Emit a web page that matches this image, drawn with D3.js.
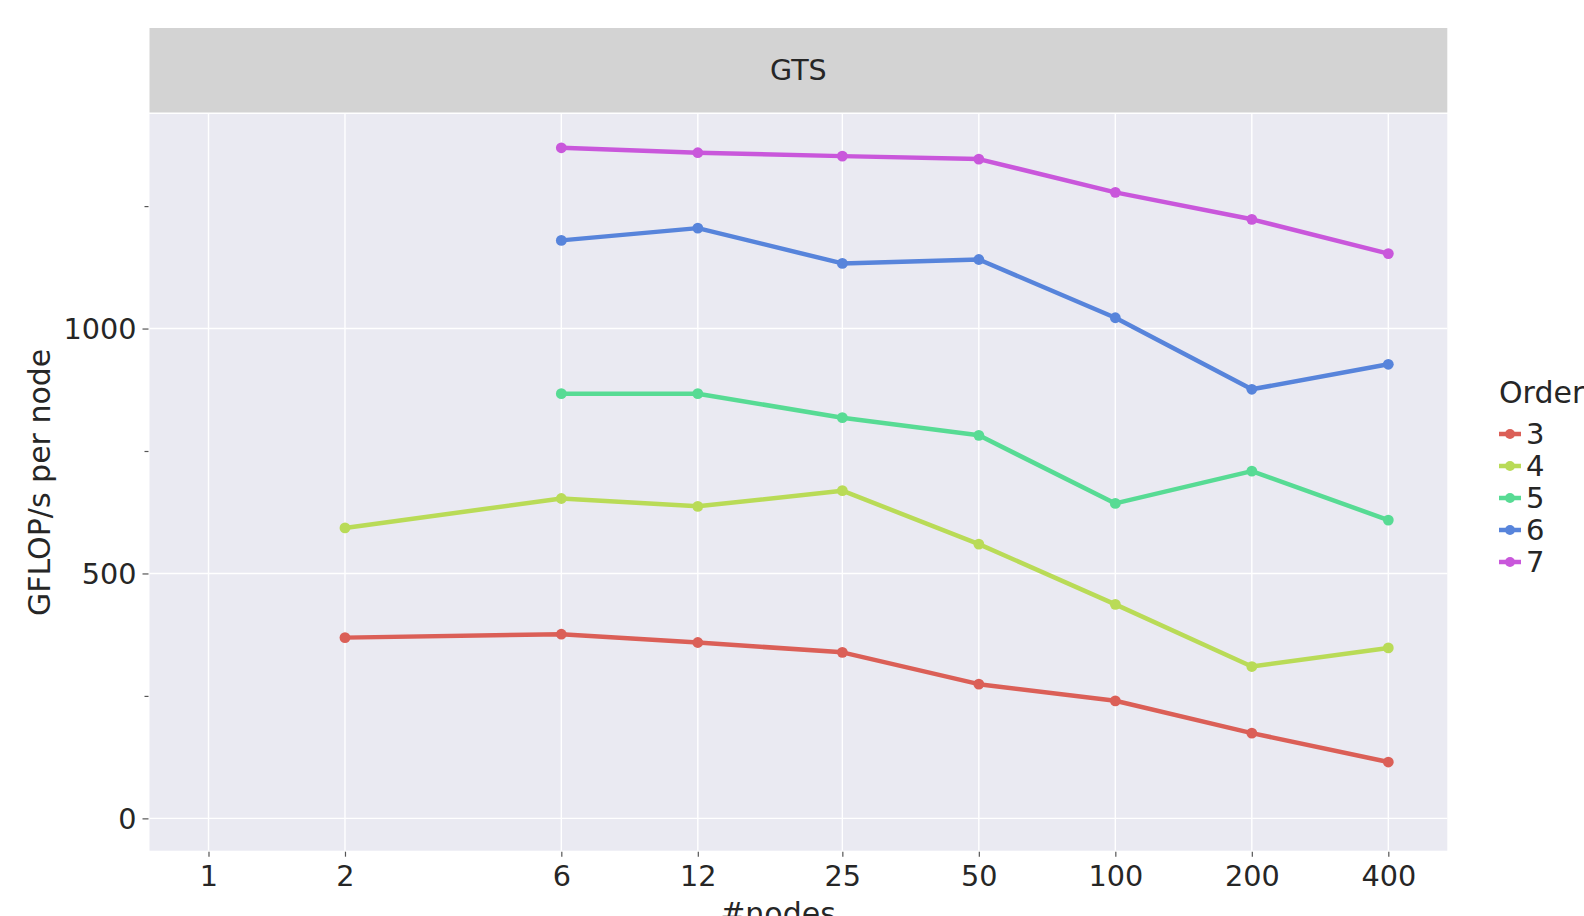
<!DOCTYPE html>
<html>
<head>
<meta charset="utf-8">
<script src="https://cdn.jsdelivr.net/npm/d3@7"></script>
<style>
  body { margin: 0; background: #fff; }
  text { font-family: "DejaVu Sans", sans-serif; fill: #262626; }
</style>
</head>
<body>
<svg width="1584" height="916"></svg>
<script>
// Data
var nodeTicks = [1, 2, 6, 12, 25, 50, 100, 200, 400];
var orders = ['3', '4', '5', '6', '7'];
var orderColors = ['#db5f57', '#b9db57', '#57db94', '#5784db', '#c957db'];
var yTicks = [0, 250, 500, 750, 1000, 1250];

var nodes3 = [2, 6, 12, 25, 50, 100, 200, 400];
var gflops3 = [369, 376, 359, 339, 274, 240, 174, 115];
var nodes4 = [2, 6, 12, 25, 50, 100, 200, 400];
var gflops4 = [593, 653, 637, 669, 560, 437, 310, 348];
var nodes5 = [6, 12, 25, 50, 100, 200, 400];
var gflops5 = [867, 867, 818, 782, 643, 709, 609];
var nodes6 = [6, 12, 25, 50, 100, 200, 400];
var gflops6 = [1180, 1205, 1133, 1141, 1022, 876, 927];
var nodes7 = [6, 12, 25, 50, 100, 200, 400];
var gflops7 = [1369, 1359, 1352, 1346, 1278, 1223, 1153];

var seriesNodes = [nodes3, nodes4, nodes5, nodes6, nodes7];
var seriesVals = [gflops3, gflops4, gflops5, gflops6, gflops7];

var svg = d3.select('svg');

// panel geometry
var panel = {l: 149.5, r: 1447.3, t: 114, b: 850.7};
var strip = {t: 28, b: 112.5};

// log2 x scale with 5% padding each side, like the original
var pad = 0.05 * Math.log2(400);
var x = d3.scaleLog().base(2)
    .domain([Math.pow(2, -pad), 400 * Math.pow(2, pad)])
    .range([panel.l, panel.r]);

var y = d3.scaleLinear()
    .domain([-66, 1438])
    .range([panel.b, panel.t]);

var color = d3.scaleOrdinal().domain(orders).range(orderColors);

// facet strip
svg.append('rect')
    .attr('x', panel.l).attr('y', strip.t)
    .attr('width', panel.r - panel.l).attr('height', strip.b - strip.t)
    .attr('fill', '#d3d3d3');
svg.append('text')
    .attr('x', (panel.l + panel.r) / 2).attr('y', 80)
    .attr('text-anchor', 'middle')
    .style('font-size', '28.5px')
    .text('GTS');

// panel background
svg.append('rect')
    .attr('x', panel.l).attr('y', panel.t)
    .attr('width', panel.r - panel.l).attr('height', panel.b - panel.t)
    .attr('fill', '#eaeaf2');

// grid lines
var gridG = svg.append('g');
gridG.selectAll('.vgrid').data(nodeTicks).enter().append('line')
    .attr('x1', function(d){ return x(d); }).attr('x2', function(d){ return x(d); })
    .attr('y1', panel.t).attr('y2', panel.b)
    .attr('stroke', '#fff').attr('stroke-width', 1.4);
gridG.selectAll('.hgrid').data([0, 500, 1000]).enter().append('line')
    .attr('y1', function(d){ return y(d); }).attr('y2', function(d){ return y(d); })
    .attr('x1', panel.l).attr('x2', panel.r)
    .attr('stroke', '#fff').attr('stroke-width', 1.4);

// axes
var xAxis = d3.axisBottom(x)
    .tickValues(nodeTicks)
    .tickFormat(d3.format('d'))
    .tickSize(5)
    .tickPadding(9);
var xG = svg.append('g')
    .attr('transform', 'translate(0,' + (panel.b + 1) + ')')
    .call(xAxis);

var yAxis = d3.axisLeft(y)
    .tickValues(yTicks)
    .tickFormat(function(d){ return d % 500 === 0 ? d : ''; })
    .tickSize(6)
    .tickPadding(6);
var yG = svg.append('g')
    .attr('transform', 'translate(' + (panel.l - 1) + ',0)')
    .call(yAxis);

[xG, yG].forEach(function(g){
    g.select('.domain').remove();
    g.selectAll('.tick line').attr('stroke', '#555').attr('stroke-width', 1.2);
    g.selectAll('.tick text')
        .style('font-family', '"DejaVu Sans", sans-serif')
        .style('font-size', '28.7px')
        .attr('fill', '#262626');
});
// minor y ticks are shorter
yG.selectAll('.tick').filter(function(d){ return d % 500 !== 0; })
    .select('line').attr('x2', -4);
yG.selectAll('.tick text').attr('dy', '0.36em');

// axis titles
svg.append('text')
    .attr('transform', 'translate(50,' + ((panel.t + panel.b) / 2) + ') rotate(-90)')
    .attr('text-anchor', 'middle')
    .style('font-size', '30px')
    .text('GFLOP/s per node');
svg.append('text')
    .attr('x', 778).attr('y', 924)
    .attr('text-anchor', 'middle')
    .style('font-size', '30px')
    .text('#nodes');

// lines and points
var line = d3.line()
    .x(function(d){ return x(d.n); })
    .y(function(d){ return y(d.v); });

var seriesData = orders.map(function(o, i){
    return {order: o, values: seriesNodes[i].map(function(n, j){ return {n: n, v: seriesVals[i][j]}; })};
});

var seriesG = svg.append('g').selectAll('.series')
    .data(seriesData).enter().append('g')
    .attr('class', 'series');

seriesG.append('path')
    .attr('d', function(d){ return line(d.values); })
    .attr('fill', 'none')
    .attr('stroke', function(d){ return color(d.order); })
    .attr('stroke-width', 4.5)
    .attr('stroke-linejoin', 'round');

seriesG.selectAll('circle')
    .data(function(d){ return d.values.map(function(v){ return {n: v.n, v: v.v, order: d.order}; }); })
    .enter().append('circle')
    .attr('cx', function(d){ return x(d.n); })
    .attr('cy', function(d){ return y(d.v); })
    .attr('r', 5.4)
    .attr('fill', function(d){ return color(d.order); });

// legend
var legend = svg.append('g').attr('transform', 'translate(1499,0)');
legend.append('text')
    .attr('x', 0).attr('y', 402.7)
    .style('font-size', '30px')
    .text('Order');
var item = legend.selectAll('.item').data(orders).enter().append('g')
    .attr('transform', function(d, i){ return 'translate(0,' + (434 + i * 32) + ')'; });
item.append('line')
    .attr('x1', 0).attr('x2', 22)
    .attr('stroke', function(d){ return color(d); })
    .attr('stroke-width', 4.5);
item.append('circle')
    .attr('cx', 11).attr('r', 5)
    .attr('fill', function(d){ return color(d); });
item.append('text')
    .attr('x', 27).attr('dy', '0.36em')
    .style('font-size', '29px')
    .text(function(d){ return d; });
</script>
</body>
</html>
